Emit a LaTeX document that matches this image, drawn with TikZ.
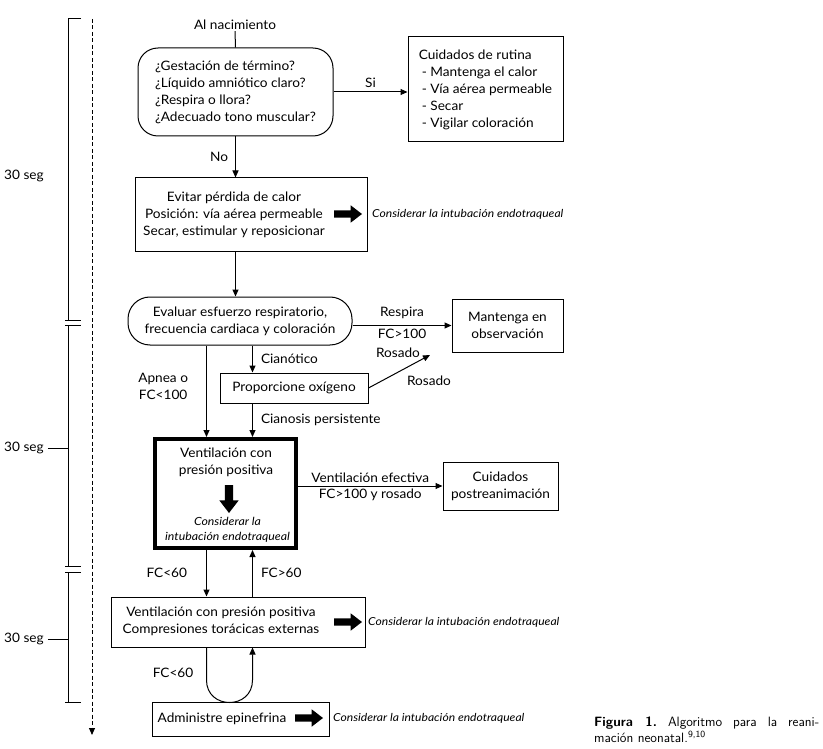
\documentclass[tikz,border=0pt]{standalone}
\usepackage{fontspec}
\setmainfont{Lato}[FakeStretch=1.05]
\newfontfamily\notefont{Lato}[FakeStretch=1.1]
\usetikzlibrary{arrows.meta,shapes.arrows}

\begin{document}
\begin{tikzpicture}[x=1pt, y=-1pt, font=\fontsize{13}{17}\selectfont,
		box_style/.style={rectangle,draw=black,line width=1pt,align=center},
		round_style/.style={rectangle,rounded corners=20pt,draw=black,line width=1pt,align=left},
		bold_style/.style={rectangle,draw=black,line width=4pt},
		label_style/.style={inner sep=1pt,align=center},
		note_style/.style={inner sep=0pt,align=center,font=\notefont\itshape\fontsize{11}{15}\selectfont},
		fat_style/.style={single arrow,fill=black,inner xsep=0pt,inner ysep=3.5pt,outer sep=0pt,
			text height=0pt,text depth=0pt,minimum height=28pt,
			single arrow head extend=5pt,single arrow head indent=0pt,single arrow tip angle=75},
		edge_style/.style={draw=black,line width=1pt},
		arrow_style/.style={draw=black,line width=1pt,-{Triangle[length=7pt,width=6pt]}}]

		\path[fill=white] (0,0) rectangle (823,749);
		\useasboundingbox (0,0) rectangle (823,749);

		\node[label_style] (n0) at (235,25) {Al nacimiento};
		\node[round_style, minimum width=195pt, minimum height=88pt] (n1) at (235.5,92) {¿Gestación de término?\\¿Líquido amniótico claro?\\¿Respira o llora?\\¿Adecuado tono muscular?};
		\node[box_style, align=left, minimum width=155pt, minimum height=105pt] (n2) at (485.5,89.5) {Cuidados de rutina\\\hspace{3pt}- Mantenga el calor\\\hspace{3pt}- Vía aérea permeable\\\hspace{3pt}- Secar\\\hspace{3pt}- Vigilar coloración};
		\node[box_style, minimum width=232pt, minimum height=74pt] (n3) at (251,215) {};
		\node[label_style] (t3) at (234,215) {Evitar pérdida de calor\\Posición: vía aérea permeable\\Secar, estimular y reposicionar};
		\node[fat_style, anchor=tail] (f3) at (334,214) {};
		\node[note_style, anchor=west] (c3) at (372,214) {Considerar la intubación endotraqueal};
		\node[round_style, rounded corners=22pt, align=center, minimum width=224pt, minimum height=48pt] (n4) at (240,321) {Evaluar esfuerzo respiratorio,\\frecuencia cardiaca y coloración};
		\node[box_style, minimum width=111pt, minimum height=53pt] (n5) at (507.5,325.5) {Mantenga en\\observación};
		\node[box_style, minimum width=148pt, minimum height=30pt] (n6) at (294,388) {Proporcione oxígeno};
		\node[bold_style, minimum width=141pt, minimum height=109pt] (n7) at (225.5,493.5) {};
		\node[label_style] (t7) at (226,462) {Ventilación con\\presión positiva};
		\node[fat_style, shape border rotate=270, inner xsep=4pt, inner ysep=0pt, single arrow head extend=5.5pt, anchor=tail] (f7) at (229,485) {};
		\node[note_style, font=\notefont\itshape\fontsize{11.2}{15}\selectfont] (c7) at (227.5,529.5) {Considerar la\\intubación endotraqueal};
		\node[box_style, minimum width=115pt, minimum height=48pt] (n8) at (500.5,486) {Cuidados\\postreanimación};
		\node[box_style, minimum width=254pt, minimum height=50pt] (n9) at (238,622) {};
		\node[label_style] (t9) at (221,621.5) {Ventilación con presión positiva\\Compresiones torácicas externas};
		\node[fat_style, anchor=tail] (f9) at (334,622) {};
		\node[note_style, anchor=west] (c9) at (368,622) {Considerar la intubación endotraqueal};
		\node[box_style, minimum width=177pt, minimum height=34pt] (n10) at (240.5,719) {};
		\node[label_style] (t10) at (222,719) {Administre epinefrina};
		\node[fat_style, anchor=tail] (f10) at (295,718) {};
		\node[note_style, anchor=west] (c10) at (333,718) {Considerar la intubación endotraqueal};

		\node[label_style] (l0) at (398,353) {Rosado};
		\node[label_style] (l1) at (429,381) {Rosado};
		\node[label_style] (l2) at (173,673) {FC<60};
		\node[label_style] (s1) at (24,176) {30 seg};
		\node[label_style] (s2) at (24,448) {30 seg};
		\node[label_style] (s3) at (24,639) {30 seg};

		\coordinate (cA) at (206.5,0);
		\coordinate (cB) at (252.5,0);
		\coordinate (r0) at (430,355);
		\coordinate (d0) at (92,19);
		\coordinate (d1) at (92,735);

		\draw[edge_style]  (n0.south) -- (n1.north);
		\draw[arrow_style] (n1.east) -- node[label_style, above=3pt]{Si} (n1.east -| n2.west);
		\draw[arrow_style] (n1.south) -- node[label_style, left=6pt]{No} (n1.south |- n3.north);
		\draw[arrow_style] (n1.south |- n3.south) -- (n1.south |- n4.north);
		\draw[arrow_style] (n4.east |- n5.west) -- node[label_style, above=5pt]{Respira} node[label_style, below=2pt]{FC>100} (n5.west);
		\draw[arrow_style] (n4.south -| cB) -- node[label_style, right=7pt]{Cianótico} (n6.north -| cB);
		\draw[arrow_style] (n4.south -| cA) -- node[label_style, left=17pt, pos=0.45]{Apnea o\\FC<100} (n7.north -| cA);
		\draw[arrow_style] (n6.south -| cB) -- node[label_style, right=7pt]{Cianosis persistente} (n7.north -| cB);
		\draw[arrow_style] (n6.east) -- (r0);
		\draw[arrow_style] (n7.east |- n8.west) -- node[label_style, above=2pt]{Ventilación efectiva} node[label_style, below=1pt]{FC>100 y rosado} (n8.west);
		\draw[arrow_style] (n7.south -| cA) -- node[label_style, left=18pt]{FC<60} (n9.north -| cA);
		\draw[arrow_style] (n9.north -| cB) -- node[label_style, right=7pt]{FC>60} (n7.south -| cB);
		\draw[arrow_style] (n9.south -| cA) -- (206.5,680) .. controls (206.5,710) and (252.5,710) .. (252.5,680) -- (n9.south -| cB);

		\draw[edge_style] (81,19) -- (68,19) -- (68,320);
		\foreach \a/\b in {320/325, 566/572} {
			\draw[edge_style] (65,\a) -- (81,\a);
			\draw[edge_style] (65,\b) -- (81,\b);
		}
		\draw[edge_style] (68,325) -- (68,566);
		\draw[edge_style] (68,572) -- (68,702);
		\draw[edge_style] (65,702) -- (81,702);
		\draw[edge_style, shorten <=3pt] (s2.east) -- (s2.east -| 68,0);
		\draw[edge_style, shorten <=3pt] (s3.east) -- (s3.east -| 68,0);
		\draw[arrow_style, dash pattern=on 4pt off 2.5pt] (d0) -- (d1);

		\node[text width=225pt, align=justify, inner sep=0pt, anchor=north west,
			font=\sffamily\fontsize{13.5}{13}\selectfont\addfontfeature{LetterSpace=3}\frenchspacing] (cap) at (594,717)
			{\textbf{Figura 1.} Algoritmo para la reani-\linebreak mación neonatal.\textsuperscript{9,10}};
		\end{tikzpicture}
\end{document}
